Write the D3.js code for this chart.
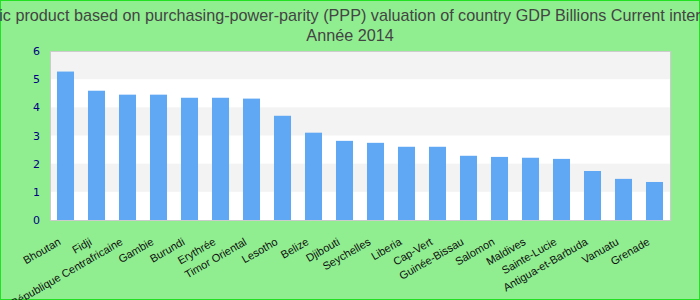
<!DOCTYPE html>
<html>
<head>
<meta charset="utf-8">
<script src="https://cdn.jsdelivr.net/npm/d3@7"></script>
<style>
html,body{margin:0;padding:0;background:#90ee90;}
svg{display:block;}
</style>
</head>
<body>
<svg id="chart" width="700" height="300"></svg>
<script>
const categories = ["Bhoutan","Fidji","République Centrafricaine","Gambie","Burundi","Erythrée","Timor Oriental","Lesotho","Belize","Djibouti","Seychelles","Liberia","Cap-Vert","Guinée-Bissau","Salomon","Maldives","Sainte-Lucie","Antigua-et-Barbuda","Vanuatu","Grenade"];
const values = [5.27,4.59,4.45,4.45,4.34,4.34,4.31,3.70,3.10,2.81,2.74,2.60,2.60,2.28,2.24,2.21,2.17,1.74,1.46,1.35];
const yTicks = [0,1,2,3,4,5,6];
const titleLine1 = "Gross domestic product based on purchasing-power-parity (PPP) valuation of country GDP Billions Current international dollar";
const titleLine2 = "Année 2014";

const W = 700, H = 300;
const plot = {left: 50, right: 670, top: 51, bottom: 220};
const svg = d3.select("#chart");

svg.append("rect").attr("x",0.5).attr("y",0.5).attr("width",W-1).attr("height",H-1)
  .attr("fill","#90ee90").attr("stroke","#22e022").attr("stroke-width",1);

const x = d3.scaleBand().domain(categories).range([plot.left, plot.right]).paddingInner(0.45).paddingOuter(0.225);
const y = d3.scaleLinear().domain([0,6]).range([plot.bottom, plot.top]);

// plot background bands
const g = svg.append("g");
g.append("rect").attr("x",plot.left).attr("y",plot.top).attr("width",plot.right-plot.left).attr("height",plot.bottom-plot.top).attr("fill","#fff");
g.selectAll("rect.band").data(yTicks.slice(0,-1).filter(d => d % 2 === 1)).enter().append("rect")
  .attr("class","band")
  .attr("x",plot.left).attr("width",plot.right-plot.left)
  .attr("y",d => y(d+1)).attr("height",d => y(d)-y(d+1))
  .attr("fill","#f3f3f3");

// bars
svg.selectAll("rect.bar").data(values).enter().append("rect")
  .attr("class","bar")
  .attr("x",(d,i) => x(categories[i]))
  .attr("width",x.bandwidth())
  .attr("y",d => y(d))
  .attr("height",d => plot.bottom - y(d))
  .attr("fill","#61a8f4");

// plot border
svg.append("rect").attr("x",plot.left+0.5).attr("y",plot.top+0.5).attr("width",plot.right-plot.left).attr("height",plot.bottom-plot.top)
  .attr("fill","none").attr("stroke","#cccccc").attr("stroke-width",1);

// y axis
const yAxis = d3.axisLeft(y).tickValues(yTicks).tickSize(0).tickPadding(0).tickFormat(d3.format("d"));
const ya = svg.append("g").attr("transform",`translate(${plot.left-10},0)`).call(yAxis);
ya.select(".domain").remove();
ya.selectAll("text").attr("fill","#000080").style("font-family","DejaVu Sans").style("font-size","11px");

// x axis labels
const xAxis = d3.axisBottom(x).tickSize(0).tickPadding(0);
const xa = svg.append("g").attr("transform",`translate(0,${plot.bottom})`).call(xAxis);
xa.select(".domain").remove();
xa.selectAll("text")
  .attr("fill","#111")
  .style("font-family","Liberation Sans, Arial, sans-serif")
  .style("font-size","11px")
  .attr("text-anchor","end")
  .attr("dy",0).attr("y",0)
  .attr("transform","translate(-4,24) rotate(-30)");

// title
svg.append("text").attr("x",W/2).attr("y",21).attr("text-anchor","middle")
  .style("font-family","Liberation Sans, Arial, sans-serif").style("font-size","16.2px").attr("fill","#444")
  .text(titleLine1);
svg.append("text").attr("x",W/2).attr("y",41).attr("text-anchor","middle")
  .style("font-family","Liberation Sans, Arial, sans-serif").style("font-size","16.2px").attr("fill","#444")
  .text(titleLine2);
</script>
</body>
</html>
